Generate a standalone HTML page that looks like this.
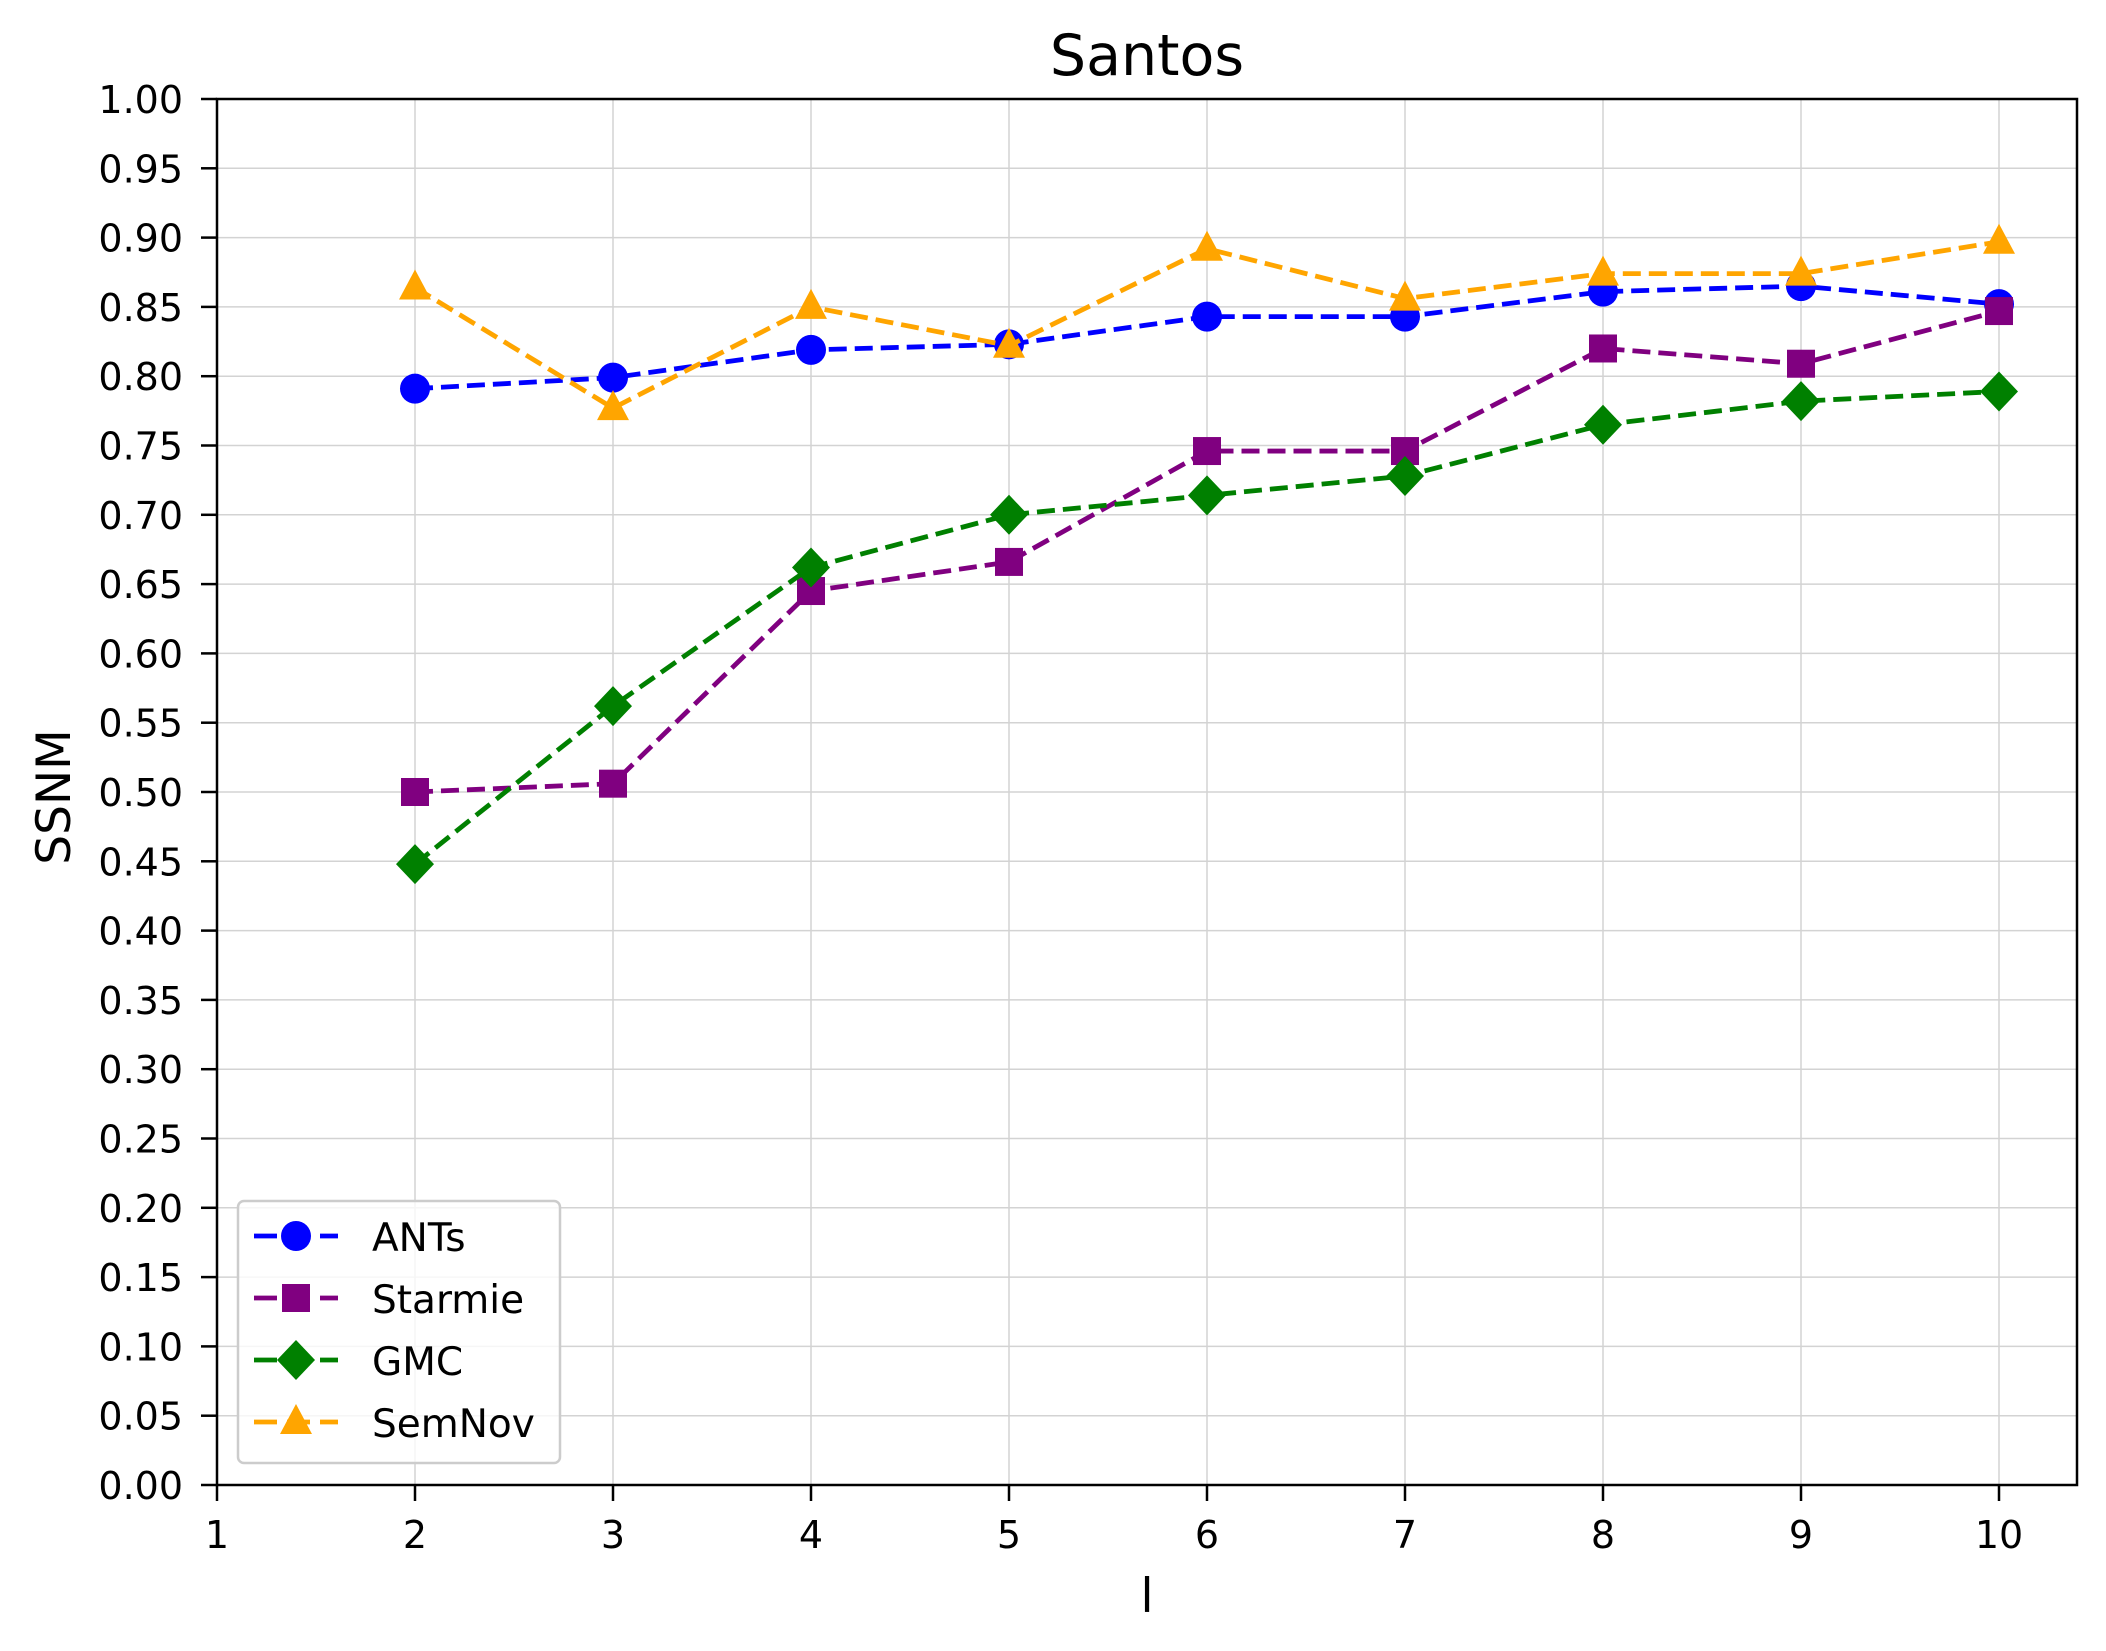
<!DOCTYPE html>
<html><head><meta charset="utf-8"><style>
html,body{margin:0;padding:0;background:#fff}
svg{display:block;font-family:"DejaVu Sans","Liberation Sans",sans-serif}
</style></head><body>
<svg id="chart" width="2106" height="1651" viewBox="0 0 2106 1651">
<text x="1147" y="75" font-size="57" text-anchor="middle">Santos</text>
<text transform="translate(70,797) rotate(-90)" font-size="47" text-anchor="middle">SSNM</text>
<text x="1147" y="1612" font-size="47" text-anchor="middle">l</text>
<g id="grid"></g><g id="series"></g><g id="axes"></g><g id="legend"></g>
</svg>
<script>
const xs=[2,3,4,5,6,7,8,9,10];
const xTicks=[1,2,3,4,5,6,7,8,9,10];
const yTicks=[0,0.05,0.1,0.15,0.2,0.25,0.3,0.35,0.4,0.45,0.5,0.55,0.6,0.65,0.7,0.75,0.8,0.85,0.9,0.95,1.0];
const antsVals=[0.791,0.799,0.819,0.823,0.843,0.843,0.861,0.865,0.852];
const starmieVals=[0.500,0.506,0.645,0.666,0.746,0.746,0.820,0.809,0.847];
const gmcVals=[0.448,0.562,0.662,0.700,0.714,0.728,0.765,0.782,0.789];
const semnovVals=[0.864,0.777,0.850,0.822,0.892,0.856,0.874,0.874,0.897];
const seriesNames=["ANTs","Starmie","GMC","SemNov"];

const NS="http://www.w3.org/2000/svg";
const L=217,R=2077,T=99,B=1485,XMIN=1,XMAX=1+(2077-217)/198;
const X=v=>L+(v-XMIN)/(XMAX-XMIN)*(R-L);
const Y=v=>B-v*(B-T);
function mk(tag,attrs,parent){const e=document.createElementNS(NS,tag);for(const k in attrs)e.setAttribute(k,attrs[k]);parent.appendChild(e);return e;}
const grid=document.getElementById('grid'),axes=document.getElementById('axes'),ser=document.getElementById('series'),leg=document.getElementById('legend');
xTicks.forEach(t=>{
 const g=mk('line',{x1:X(t),x2:X(t),y1:T,y2:B,stroke:'#d3d3d3','stroke-width':1.5},grid);
 
 
 const tk=mk('line',{x1:X(t),x2:X(t),y1:B,y2:B+16,stroke:'#000','stroke-width':2.5},axes);
 
 
 const tx=mk('text',{x:X(t),y:B+63,'font-size':38,'text-anchor':'middle'},axes);tx.textContent=t;
 
 
});
yTicks.forEach(t=>{
 const g=mk('line',{x1:L,x2:R,y1:Y(t),y2:Y(t),stroke:'#d3d3d3','stroke-width':1.5},grid);
 
 
 const tk=mk('line',{x1:L-16,x2:L,y1:Y(t),y2:Y(t),stroke:'#000','stroke-width':2.5},axes);
 
 
 const tx=mk('text',{x:L-34,y:Y(t)+14,'font-size':38,'text-anchor':'end'},axes);tx.textContent=t.toFixed(2);
 
 
});
const frame=mk('rect',{x:L,y:T,width:R-L,height:B-T,fill:'none',stroke:'#000','stroke-width':2.5},axes);



function marker(kind,cx,cy,color,parent){
 let e;
 if(kind==='circle')e=mk('circle',{cx:cx,cy:cy,r:15,fill:color},parent);
 else if(kind==='square')e=mk('rect',{x:cx-14,y:cy-14,width:28,height:28,fill:color},parent);
 else if(kind==='diamond')e=mk('polygon',{points:`${cx},${cy-20} ${cx+19},${cy} ${cx},${cy+20} ${cx-19},${cy}`,fill:color},parent);
 else e=mk('polygon',{points:`${cx},${cy-18} ${cx+16},${cy+12} ${cx-16},${cy+12}`,fill:color},parent);
 return e;
}
const defs=[[antsVals,'#0000ff','circle'],[starmieVals,'#800080','square'],[gmcVals,'#008000','diamond'],[semnovVals,'#ffa500','triangle']];
defs.forEach((d,i)=>{
 const [vals,color,kind]=d;
 const g=mk('g',{},ser);
 
 
 const pl=mk('polyline',{points:xs.map((x,j)=>X(x)+','+Y(vals[j])).join(' '),fill:'none',stroke:color,'stroke-width':4.8,'stroke-dasharray':'18,8'},g);
 
 
 xs.forEach((x,j)=>{const m=marker(kind,X(x),Y(vals[j]),color,g);
  
  });
});
const box=mk('rect',{x:238,y:1201,width:322,height:262,rx:6,fill:'#fff','fill-opacity':0.8,stroke:'#ccc','stroke-width':2.5},leg);


defs.forEach((d,i)=>{
 const [vals,color,kind]=d;const y=1236+i*62;
 const g=mk('g',{},leg);
 
 
 mk('line',{x1:254,x2:338,y1:y,y2:y,stroke:color,'stroke-width':4.8,'stroke-dasharray':'23,10'},g);
 marker(kind,296,y,color,g);
 const t=mk('text',{x:372,y:y+15,'font-size':39},g);t.textContent=seriesNames[i];
});
</script>
</body></html>
